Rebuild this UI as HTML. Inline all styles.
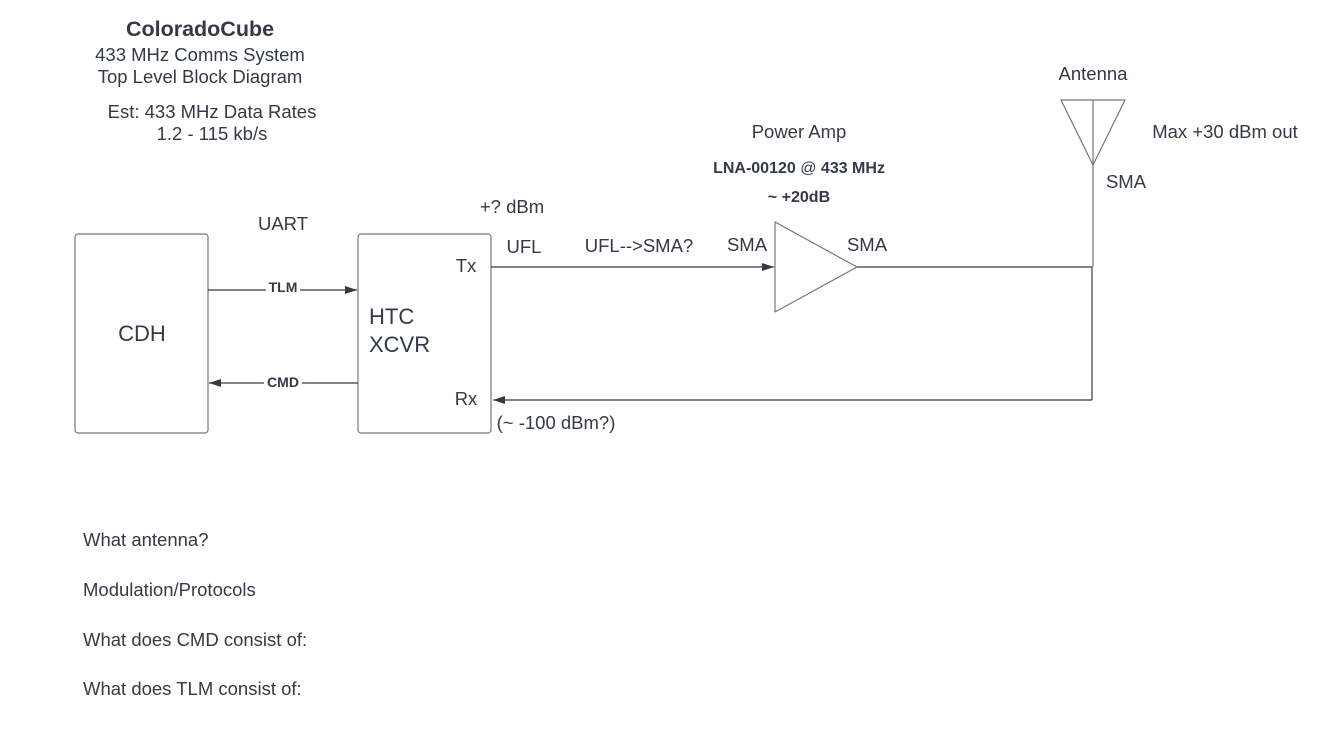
<!DOCTYPE html>
<html><head><style>
html,body{margin:0;padding:0;background:#fff;}
svg{display:block;}
text{font-family:"Liberation Sans",Arial,sans-serif;fill:#333a45;}
</style></head><body>
<svg width="1320" height="730" viewBox="0 0 1320 730" xmlns="http://www.w3.org/2000/svg">
<defs>
<marker id="a" markerWidth="12" markerHeight="8" refX="12" refY="4" orient="auto" markerUnits="userSpaceOnUse">
<path d="M0,0 L12,4 L0,8 Z" fill="#333a45"/>
</marker>
</defs>
<g font-size="18.5" text-anchor="middle">
<text x="200" y="36" font-size="21.5" font-weight="bold">ColoradoCube</text>
<text x="200" y="61">433 MHz Comms System</text>
<text x="200" y="83">Top Level Block Diagram</text>
<text x="212" y="118">Est: 433 MHz Data Rates</text>
<text x="212" y="140">1.2 - 115 kb/s</text>
<text x="799" y="138">Power Amp</text>
<text x="799" y="173" font-size="16" font-weight="bold">LNA-00120 <tspan font-weight="normal">@</tspan> 433 MHz</text>
<text x="799" y="202" font-size="16" font-weight="bold">~ +20dB</text>
<text x="1093" y="80">Antenna</text>
<text x="1225" y="138">Max +30 dBm out</text>
<text x="1126" y="188">SMA</text>
<text x="283" y="230">UART</text>
<text x="512" y="213">+? dBm</text>
<text x="524" y="253">UFL</text>
<text x="639" y="252">UFL--&gt;SMA?</text>
<text x="747" y="251">SMA</text>
<text x="867" y="251">SMA</text>
<text x="466" y="272">Tx</text>
<text x="466" y="405">Rx</text>
<text x="556" y="429">(~ -100 dBm?)</text>
</g>
<rect x="75" y="234" width="133" height="199" rx="3" fill="#fff" stroke="#777" stroke-width="1.2"/>
<rect x="358" y="234" width="133" height="199" rx="3" fill="none" stroke="#777" stroke-width="1.2"/>
<text x="142" y="341" font-size="22" text-anchor="middle">CDH</text>
<text x="369" y="324" font-size="22">HTC</text>
<text x="369" y="352" font-size="22">XCVR</text>
<g stroke="#333a45" stroke-width="1.2" fill="none">
<line x1="208" y1="290" x2="357" y2="290" marker-end="url(#a)"/>
<line x1="358" y1="383" x2="209" y2="383" marker-end="url(#a)"/>
<line x1="491" y1="267" x2="774" y2="267" marker-end="url(#a)"/>
<line x1="857" y1="267" x2="1092" y2="267"/>
<line x1="1092" y1="267" x2="1092" y2="400"/>
<line x1="1092" y1="400" x2="493" y2="400" marker-end="url(#a)"/>
</g>
<g stroke="#777" stroke-width="1.2" fill="none">
<path d="M775,222 L857,267 L775,312 Z" stroke-linejoin="round"/>
<path d="M1061,100 L1125,100 L1093,165 Z" stroke-linejoin="round"/>
<line x1="1093" y1="100" x2="1093" y2="267"/>
</g>
<rect x="266" y="280" width="34" height="16" fill="#fff"/>
<text x="283" y="292" font-size="14" font-weight="bold" text-anchor="middle">TLM</text>
<rect x="264" y="374" width="38" height="16" fill="#fff"/>
<text x="283" y="387" font-size="14" font-weight="bold" text-anchor="middle">CMD</text>
<g font-size="18.5">
<text x="83" y="546">What antenna?</text>
<text x="83" y="596">Modulation/Protocols</text>
<text x="83" y="646">What does CMD consist of:</text>
<text x="83" y="695">What does TLM consist of:</text>
</g>
</svg>
</body></html>
